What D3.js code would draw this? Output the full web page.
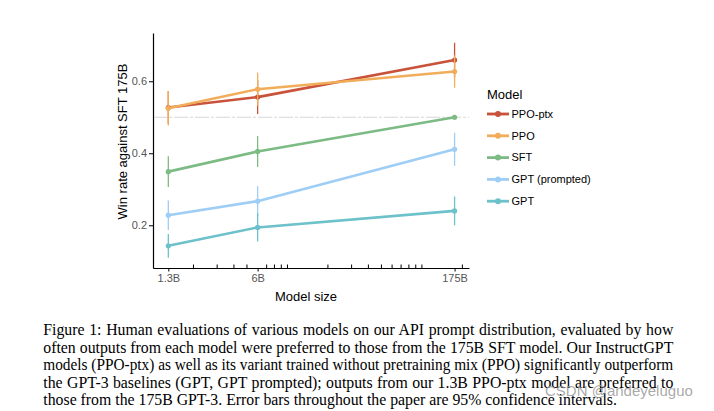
<!DOCTYPE html>
<html>
<head>
<meta charset="utf-8">
<script src="https://cdn.jsdelivr.net/npm/d3@7"></script>
<style>
  html, body { margin: 0; padding: 0; background: #fff; }
  svg { display: block; }
</style>
</head>
<body>
<svg id="chart" width="714" height="411"></svg>
<script>
// ---------- data ----------
const sizeLabels = ["1.3B", "6B", "175B"];
const sizeParams = [1.3, 6, 175];               // billions of parameters
const seriesNames = ["PPO-ptx", "PPO", "SFT", "GPT (prompted)", "GPT"];
const seriesColors = ["#c9523b", "#f1ad59", "#7cbb84", "#9ecdf6", "#6cc1ca"];
const ppoPtx   = [0.527, 0.556, 0.659];
const ppo      = [0.525, 0.578, 0.627];
const sft      = [0.349, 0.405, 0.500];
const gptPrompted = [0.228, 0.267, 0.411];
const gpt      = [0.143, 0.194, 0.240];
const ppoPtxErr = [0.045, 0.047, 0.048];
const ppoErr    = [0.048, 0.046, 0.045];
const sftErr    = [0.043, 0.043, 0.006];
const gptPromptedErr = [0.041, 0.042, 0.046];
const gptErr    = [0.033, 0.039, 0.040];
const yTicks = [0.2, 0.4, 0.6];
const referenceLine = 0.5;
const minorTicks = [2, 3, 4, 5, 7, 8, 9, 10, 20, 30, 40, 50, 60, 70, 80, 90, 100, 200];
const captionLines = [
  "Figure 1: Human evaluations of various models on our API prompt distribution, evaluated by how",
  "often outputs from each model were preferred to those from the 175B SFT model. Our InstructGPT",
  "models (PPO-ptx) as well as its variant trained without pretraining mix (PPO) significantly outperform",
  "the GPT-3 baselines (GPT, GPT prompted); outputs from our 1.3B PPO-ptx model are preferred to",
  "those from the 175B GPT-3. Error bars throughout the paper are 95% confidence intervals."
];
const watermark = "CSDN @andeyeluguo";

(function () {
const allValues = [ppoPtx, ppo, sft, gptPrompted, gpt];
const allErrors = [ppoPtxErr, ppoErr, sftErr, gptPromptedErr, gptErr];
const series = seriesNames.map((name, i) => ({
  name, color: seriesColors[i],
  points: sizeParams.map((p, j) => ({ p, v: allValues[i][j], e: allErrors[i][j] }))
}));

// ---------- layout ----------
const svg = d3.select("#chart");
const sans = "'Liberation Sans', Arial, Helvetica, sans-serif";
const serif = "'Liberation Serif', 'Times New Roman', serif";
const pLeft = 153, pRight = 469, pTop = 33, pBottom = 268;

const x = d3.scaleLog().domain([1.0, 224]).range([pLeft, pRight]);
const y = d3.scaleLinear().domain([0.0814, 0.734]).range([pBottom, pTop]);

// reference line at 0.5
svg.append("line")
  .attr("x1", pLeft).attr("x2", pRight)
  .attr("y1", y(referenceLine)).attr("y2", y(referenceLine))
  .attr("stroke", "#d6d6d6").attr("stroke-width", 1)
  .attr("stroke-dasharray", "14,2,3,2");

// y axis
const yAxis = svg.append("g").attr("transform", `translate(${pLeft},0)`)
  .call(d3.axisLeft(y).tickValues(yTicks).tickFormat(d3.format(".1f")).tickSize(4).tickPadding(2).tickSizeOuter(0));
yAxis.select(".domain").attr("stroke", "#000").attr("stroke-width", 1.2);
yAxis.selectAll(".tick line").attr("stroke", "#000");
yAxis.selectAll(".tick text").attr("fill", "#555").attr("font-family", sans).attr("font-size", 11);

// x axis (major ticks down)
const xAxis = svg.append("g").attr("transform", `translate(0,${pBottom})`)
  .call(d3.axisBottom(x).tickValues(sizeParams).tickFormat((d, i) => sizeLabels[i]).tickSize(3.5).tickPadding(2.5).tickSizeOuter(0));
xAxis.select(".domain").attr("stroke", "#000").attr("stroke-width", 1.2);
xAxis.selectAll(".tick line").attr("stroke", "#000");
xAxis.selectAll(".tick text").attr("fill", "#555").attr("font-family", sans).attr("font-size", 11);

// minor ticks (up)
svg.append("g").selectAll("line").data(minorTicks).join("line")
  .attr("x1", d => x(d)).attr("x2", d => x(d))
  .attr("y1", pBottom).attr("y2", pBottom - 3.5)
  .attr("stroke", "#000").attr("stroke-width", 1);

// axis titles
svg.append("text")
  .attr("transform", "translate(127,141.5) rotate(-90)")
  .attr("text-anchor", "middle")
  .attr("font-family", sans).attr("font-size", 13).attr("fill", "#000")
  .text("Win rate against SFT 175B");
svg.append("text")
  .attr("x", 306).attr("y", 301)
  .attr("text-anchor", "middle")
  .attr("font-family", sans).attr("font-size", 13).attr("fill", "#000")
  .text("Model size");

// series
const line = d3.line().x(d => x(d.p)).y(d => y(d.v));
const gS = svg.append("g");
series.forEach(s => {
  const g = gS.append("g");
  g.selectAll("line.err").data(s.points).join("line").attr("class", "err")
    .attr("x1", d => x(d.p)).attr("x2", d => x(d.p))
    .attr("y1", d => y(d.v - d.e)).attr("y2", d => y(d.v + d.e))
    .attr("stroke", s.color).attr("stroke-width", 1.3);
  g.append("path").datum(s.points)
    .attr("d", line).attr("fill", "none")
    .attr("stroke", s.color).attr("stroke-width", 2.6).attr("stroke-linecap", "round");
  g.selectAll("circle").data(s.points).join("circle")
    .attr("cx", d => x(d.p)).attr("cy", d => y(d.v)).attr("r", 2.6)
    .attr("fill", s.color);
});

// legend
const lg = svg.append("g");
lg.append("text").attr("x", 487).attr("y", 99)
  .attr("font-family", sans).attr("font-size", 13).attr("fill", "#000").text("Model");
series.forEach((s, i) => {
  const cy = 114 + i * 21.8;
  lg.append("line").attr("x1", 487).attr("x2", 509).attr("y1", cy).attr("y2", cy)
    .attr("stroke", s.color).attr("stroke-width", 2.8);
  lg.append("circle").attr("cx", 498).attr("cy", cy).attr("r", 3).attr("fill", s.color);
  lg.append("text").attr("x", 511.5).attr("y", cy).attr("dy", "0.35em")
    .attr("font-family", sans).attr("font-size", 11).attr("fill", "#000").text(s.name);
});

// caption (justified lines)
const capLeft = 43.3, capRight = 673.3;
captionLines.forEach((t, i) => {
  const txt = svg.append("text")
    .attr("x", capLeft).attr("y", 335 + i * 17.6)
    .attr("font-family", serif).attr("font-size", 15.8).attr("fill", "#000")
    .text(t);
  if (i < captionLines.length - 1) {
    const natural = txt.node().getComputedTextLength();
    const spaces = (t.match(/ /g) || []).length;
    const ws = (capRight - capLeft - natural) / spaces;
    if (ws >= 0) {
      txt.attr("word-spacing", ws);
    } else {
      txt.attr("textLength", capRight - capLeft).attr("lengthAdjust", "spacingAndGlyphs");
    }
  }
});

// watermark
svg.append("text").attr("x", 545).attr("y", 396)
  .attr("font-family", sans).attr("font-size", 15).attr("fill", "#9a9a9a").attr("fill-opacity", 0.85)
  .text(watermark);
})();
</script>
</body>
</html>
